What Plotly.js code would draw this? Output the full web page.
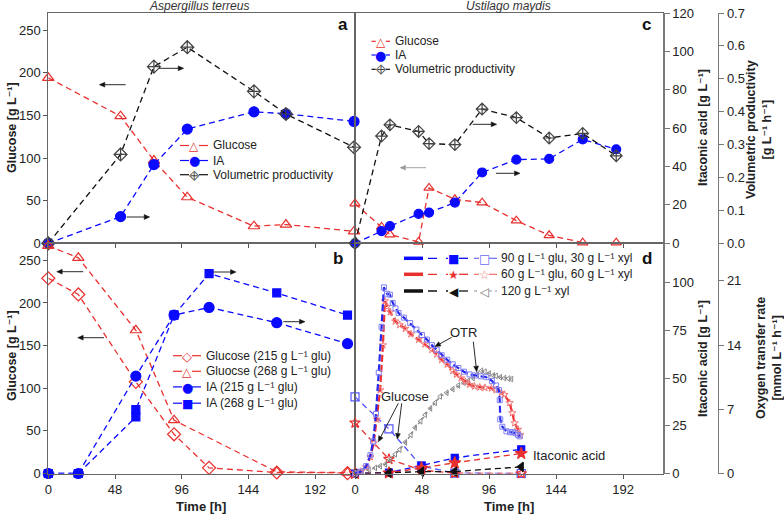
<!DOCTYPE html>
<html><head><meta charset="utf-8">
<script src="https://cdn.plot.ly/plotly-3.0.1.min.js"></script>
<style>body{margin:0;background:#fff;}</style>
</head><body>
<div id="chart" style="width:784px;height:515px;"></div>
<script>
// ---------------- DATA ----------------
// Panel a: Aspergillus terreus (batch)
const timeA    = [0, 52, 76, 100, 148, 171, 220];
const glucoseA = [194, 149, 97, 54, 20, 22, 14];          // g/L (left axis)
const iaA      = [0, 13.9, 41, 59.5, 68.5, 67.5, 63.5];   // g/L (right axis)
const vpA      = [0, 0.27, 0.537, 0.596, 0.462, 0.393, 0.292]; // g/L/h

// Panel b: Aspergillus terreus, 215 / 268 g/L glucose
const timeB        = [0, 21.6, 63, 90.5, 115.7, 164.4, 215.3];
const glucoseB215  = [229, 210, 107.5, 46, 6.6, 1.2, 0.4];
const timeB268Glu  = [0, 21.6, 63, 90.5, 164.4, 215.3];
const glucoseB268  = [267, 253, 168, 62.5, 1.9, 1];
const iaB215       = [0, 0, 51, 83, 87, 79, 68];
const timeB268IA   = [0, 21.6, 63, 63, 90.5, 115.7, 164.4, 215.3];
const iaB268       = [0, 0, 29.6, 33.5, 83, 104.7, 94.6, 83];

// Panel c: Ustilago maydis
const timeC    = [0, 19, 25, 45.5, 53, 71.5, 91, 115.5, 139, 163, 187];
const glucoseC = [46.6, 19.2, 10.2, 1.6, 65, 51.6, 47.7, 26.6, 9.4, 0.8, 0.8];
const iaC      = [0, 6.3, 8.9, 15.3, 16, 21.2, 36.9, 43.6, 44, 54.1, 49];
const vpC      = [0, 0.326, 0.36, 0.34, 0.303, 0.30, 0.408, 0.382, 0.32, 0.334, 0.266];

// Panel d: Ustilago maydis, mixed substrates
const timeD      = [0, 24.3, 47.6, 71.4, 119];
const glucoseD1  = [89.8, 52.3, 8.6, 0.5, 0];     // 90 glu / 30 xyl
const glucoseD2  = [59.4, 16.8, 3.9, 0.3, 0];     // 60 glu / 60 xyl
const iaD1       = [0, 0.5, 4.2, 8.2, 12.7];
const iaD2       = [0, 0.3, 2.9, 5.6, 10.5];
const iaD3       = [0, 0.3, 1, 1, 3.5];           // 120 xyl

const otrTime1 = [0, 4, 8, 11, 13, 15, 17, 19, 20.7, 22.9, 25, 27, 29, 31.2, 35, 39.5, 44, 47.9, 51.5, 55, 58.5, 62, 66, 70, 74, 78, 82, 86, 90, 94, 98, 101, 103, 103.6, 104, 105.5, 108.4, 111, 113, 115, 116.7, 117.9];
const otr1     = [0, 0.2, 0.8, 2.0, 3.5, 6.5, 11, 16, 20.3, 19.6, 19.5, 18.6, 18.0, 17.5, 17.0, 16.4, 15.7, 15.1, 14.6, 14.0, 13.5, 12.9, 12.4, 11.9, 11.5, 11.1, 10.8, 10.7, 10.6, 10.5, 10.1, 9.6, 9.1, 8.0, 5.9, 5.1, 4.6, 4.5, 4.5, 4.4, 4.2, 4.05];
const otrTime2 = [0, 4, 8, 11, 13.4, 15.7, 18, 20, 21.4, 23, 25.2, 28.8, 32, 36, 40, 45.5, 50, 55, 58.5, 62, 66, 70, 72.6, 76, 79, 82, 85.5, 89.3, 93, 97.6, 101, 104.8, 107, 110.7, 112.6, 114.3, 116.7, 118.3];
const otr2     = [0, 0.2, 0.7, 1.8, 3.3, 5.9, 9.1, 14, 18.8, 18.2, 17.6, 16.6, 16.2, 15.8, 15.2, 14.6, 14.1, 13.5, 13.0, 12.4, 11.9, 11.2, 10.8, 10.4, 10.0, 9.7, 9.5, 9.4, 9.35, 9.3, 9.1, 8.8, 8.6, 7.7, 6.6, 5.5, 4.8, 4.2];
const otrTime3 = [0, 5, 10, 14.5, 18, 21.7, 25, 28.8, 32, 36, 40, 43, 47, 50.2, 54, 57.4, 61, 65.7, 70, 74, 78, 81, 84.5, 87.5, 90.5, 93, 96, 99, 101, 104, 107, 110, 112];
const otr3     = [0, 0.3, 0.4, 0.6, 0.8, 1.0, 1.5, 2.1, 2.6, 3.4, 4.2, 5.0, 5.7, 6.4, 7.1, 7.7, 8.4, 8.8, 9.2, 9.6, 9.9, 10.1, 10.4, 10.8, 11.2, 11.1, 10.9, 10.7, 10.65, 10.5, 10.4, 10.35, 10.3];

const timeTicks = [0, 48, 96, 144, 192];
const glucoseTicks = [0, 50, 100, 150, 200, 250];
const iaTicksC = [0, 20, 40, 60, 80, 100, 120];
const iaTicksD = [0, 25, 50, 75, 100];
const vpTicks = [0, 0.1, 0.2, 0.3, 0.4, 0.5, 0.6, 0.7];
const otrTicks = [0, 7, 14, 21];

// ---------------- STYLE ----------------
const FONT = 'Arial, "Liberation Sans", "DejaVu Sans", sans-serif';
const W = 784, H = 515;
const px = v => v / W, py = v => 1 - v / H;
const XL = [px(48.3), px(355)], XR = [px(355), px(663.3)];
const YT = [py(243.3), py(13)], YB = [py(473.5), py(243.3)];
const RED = '#e8302e', BLUE = '#0a0aff', BLK = '#111111';
const DASH = '6px,4px';

function tr(x, y, xa, ya, color, symbol, size, opt) {
  opt = opt || {};
  return {
    x: x, y: y, xaxis: xa, yaxis: ya, type: 'scatter', mode: 'lines+markers',
    cliponaxis: false, showlegend: false, hoverinfo: 'skip',
    line: {color: opt.lineColor || color, width: opt.lw || 1.3, dash: opt.dash || DASH},
    marker: {symbol: symbol, size: size, color: opt.mcolor || color,
             line: {color: opt.mcolor || color, width: opt.mlw || 1.2}}
  };
}

const data = [
  // a
  tr(timeA, glucoseA, 'x', 'y', RED, 'triangle-up-open', 10),
  tr(timeA, iaA, 'x', 'y2', BLUE, 'circle', 10),
  tr(timeA, vpA, 'x', 'y3', BLK, 'diamond-cross-open', 10, {mcolor: '#444'}),
  // b
  tr(timeB, glucoseB215, 'x2', 'y4', RED, 'diamond-open', 10),
  tr(timeB268Glu, glucoseB268, 'x2', 'y4', RED, 'triangle-up-open', 10),
  tr(timeB, iaB215, 'x2', 'y5', BLUE, 'circle', 10),
  tr(timeB268IA, iaB268, 'x2', 'y5', BLUE, 'square', 8),
  // c
  tr(timeC, glucoseC, 'x3', 'y6', RED, 'triangle-up-open', 9),
  tr(timeC, iaC, 'x3', 'y7', BLUE, 'circle', 9),
  tr(timeC, vpC, 'x3', 'y8', BLK, 'diamond-cross-open', 9, {mcolor: '#444'}),
  // d : OTR
  tr(otrTime3, otr3, 'x4', 'y11', '#8a8a8a', 'triangle-left-open', 5, {dash: 'dot', lw: 1.5, mlw: 1}),
  tr(otrTime2, otr2, 'x4', 'y11', '#f27474', 'star-open', 5.5, {lineColor: '#ee3030', lw: 2.2, dash: '7px,3px', mlw: 1}),
  tr(otrTime1, otr1, 'x4', 'y11', '#8080f4', 'square-open', 5, {lineColor: '#2828ee', lw: 2.2, dash: '7px,3px', mlw: 1}),
  // d : glucose
  tr(timeD, glucoseD1, 'x4', 'y9', '#5555ff', 'square-open', 8),
  tr(timeD, glucoseD2, 'x4', 'y9', RED, 'star-open', 8),
  // d : itaconic acid
  tr(timeD, iaD1, 'x4', 'y10', BLUE, 'square', 7),
  tr(timeD, iaD2, 'x4', 'y10', RED, 'star', 9),
  tr(timeD, iaD3, 'x4', 'y10', BLK, 'triangle-left', 8)
];

const tickFont = {family: FONT, size: 13, color: '#222'};
function xAx(domain, anchor, labels) {
  return {domain: domain, anchor: anchor, range: [0, 220.7], tickvals: timeTicks,
    showticklabels: labels, ticks: 'outside', ticklen: 4, tickcolor: '#555',
    showline: true, linecolor: '#666', linewidth: 1, mirror: true,
    showgrid: false, zeroline: false, tickfont: tickFont, fixedrange: true};
}
function yLeft(domain, anchor, labels) {
  return {domain: domain, anchor: anchor, range: [0, 270], tickvals: glucoseTicks,
    showticklabels: labels, ticks: labels ? 'outside' : '', ticklen: 4, tickcolor: '#555',
    showline: true, linecolor: '#666', linewidth: 1, mirror: true,
    showgrid: false, zeroline: false, tickfont: tickFont, fixedrange: true};
}
function hidden(over, anchor, range) {
  return {overlaying: over, anchor: anchor, range: range, visible: false, fixedrange: true};
}
function yRight(over, pos, range, ticks, fmt) {
  return {overlaying: over, anchor: 'free', position: px(pos), side: 'right', range: range,
    tickvals: ticks, tickformat: fmt || '', ticks: 'outside', ticklen: 5, tickcolor: '#777',
    showline: true, linecolor: '#7a7a7a', linewidth: 1.3, showgrid: false, zeroline: false,
    tickfont: tickFont, fixedrange: true};
}

const shapes = [];
const annotations = [];
function txt(text, x, y, o) {
  o = o || {};
  annotations.push({text: text, xref: 'paper', yref: 'paper', x: px(x), y: py(y),
    xanchor: o.xa || 'center', yanchor: o.ya || 'middle', showarrow: false,
    textangle: o.angle || 0,
    font: {family: o.family || FONT, size: o.size || 12, color: o.color || '#222'}});
}
// arrow drawn as a line plus a filled head (layout decoration)
function arrow(hx, hy, tx, ty, color) {
  color = color || '#111';
  const dx = hx - tx, dy = hy - ty, len = Math.sqrt(dx * dx + dy * dy);
  const ux = dx / len, uy = dy / len, hl = 5.5, hw = 2.4;
  const bx = hx - ux * hl, by = hy - uy * hl;
  shapes.push({type: 'line', xref: 'paper', yref: 'paper', x0: px(tx), y0: py(ty),
    x1: px(bx), y1: py(by), line: {color: color, width: 0.9}});
  const p1 = [bx - uy * hw, by + ux * hw], p2 = [bx + uy * hw, by - ux * hw];
  shapes.push({type: 'path', xref: 'paper', yref: 'paper',
    path: 'M' + px(hx) + ',' + py(hy) + ' L' + px(p1[0]) + ',' + py(p1[1]) +
          ' L' + px(p2[0]) + ',' + py(p2[1]) + ' Z',
    fillcolor: color, line: {color: color, width: 0.5}});
}
function seg(x0, x1, y, color, width, dash) {
  shapes.push({type: 'line', xref: 'paper', yref: 'paper', x0: px(x0), x1: px(x1),
    y0: py(y), y1: py(y), line: {color: color, width: width || 1.3, dash: dash || 'dash'}});
}
function glyph(g, x, y, color, size, angle) {
  annotations.push({text: g, xref: 'paper', yref: 'paper', x: px(x), y: py(y),
    xanchor: 'center', yanchor: 'middle', showarrow: false, textangle: angle || 0,
    font: {family: '"DejaVu Sans"', size: size || 13, color: color}});
}
// simple legend row: "- o -" + label
function legRow(x0, x1, y, color, g, gcol, gsize, label, gangle) {
  const cx = (x0 + x1) / 2;
  seg(x0, cx - 5, y, color, 1.2, 'dash');
  seg(cx + 5, x1, y, color, 1.2, 'dash');
  glyph(g, cx, y + 0.5, gcol, gsize, gangle);
  txt(label, x1 + 3, y, {xa: 'left', size: 12});
}
const SUP = '⁻¹';

// Panel a legend
legRow(180, 208, 145.5, RED, '△', RED, 12, 'Glucose');
legRow(180, 208, 160.5, BLUE, '●', BLUE, 13, 'IA');
legRow(180, 208, 174.7, BLK, '⊠', '#444', 11, 'Volumetric productivity', 45);
// Panel c legend
legRow(371.5, 390, 41.3, RED, '△', RED, 12, 'Glucose');
legRow(371.5, 390, 55, BLUE, '●', BLUE, 13, 'IA');
legRow(371.5, 390, 69.3, BLK, '⊠', '#444', 11, 'Volumetric productivity', 45);
// Panel b legend
legRow(173, 201, 355.7, RED, '◇', RED, 13, 'Glucose (215 g L' + SUP + ' glu)');
legRow(173, 201, 371.3, RED, '△', RED, 12, 'Gluocse (268 g L' + SUP + ' glu)');
legRow(173, 201, 386.9, BLUE, '●', BLUE, 13, 'IA (215 g L' + SUP + ' glu)');
legRow(173, 201, 403.2, BLUE, '■', BLUE, 12, 'IA (268 g L' + SUP + ' glu)');
// Panel d legend
function legD(y, c1, fg, c2, og, c3, odash, label) {
  seg(404, 423, y, c1, 3.5, 'solid');
  seg(428, 448, y, c1, 1.3, 'dash');
  seg(459, 472, y, c1, 1.3, 'dash');
  glyph(fg, 453.5, y + 0.5, c1, 12);
  seg(474, 479, y, c3, 1.2, odash);
  seg(489, 497, y, c3, 1.2, odash);
  glyph(og, 484.3, y + 0.5, c2, 12);
  txt(label, 499, y, {xa: 'left', size: 12});
}
legD(258.3, BLUE, '■', '#6a6af0', '□', '#6a6af0', 'dash', '90 g L' + SUP + ' glu, 30 g L' + SUP + ' xyl');
legD(274.3, RED, '★', '#f07070', '☆', '#f07070', 'dash', '60 g L' + SUP + ' glu, 60 g L' + SUP + ' xyl');
legD(291, BLK, '◀', '#777', '◁', '#999', 'dot', '120 g L' + SUP + ' xyl');

// titles and letters
txt('<i>Aspergillus terreus</i>', 199, 6, {size: 12, color: '#333'});
txt('<i>Ustilago maydis</i>', 508, 6, {size: 12, color: '#333'});
txt('<b>a</b>', 342.5, 25, {size: 17, color: '#111'});
txt('<b>b</b>', 337.7, 258.3, {size: 17, color: '#111'});
txt('<b>c</b>', 646.7, 25, {size: 17, color: '#111'});
txt('<b>d</b>', 646.7, 258.3, {size: 17, color: '#111'});
// axis titles
txt('<b>Glucose [g L' + SUP + ']</b>', 12, 128, {angle: -90, size: 12.5});
txt('<b>Glucose [g L' + SUP + ']</b>', 12, 356, {angle: -90, size: 12.5});
txt('<b>Itaconic acid [g L' + SUP + ']</b>', 703, 128, {angle: -90, size: 12.5});
txt('<b>Itaconic acid [g L' + SUP + ']</b>', 703, 359, {angle: -90, size: 12.5});
txt('<b>Volumetric productivity<br>[g L' + SUP + ' h' + SUP + ']</b>', 759, 130, {angle: -90, size: 12.5});
txt('<b>Oxygen transfer rate<br>[mmol L' + SUP + ' h' + SUP + ']</b>', 769, 358, {angle: -90, size: 12.5});
txt('<b>Time [h]</b>', 201, 506, {size: 13});
txt('<b>Time [h]</b>', 509, 506, {size: 13});
// in-plot labels
txt('OTR', 463.3, 332.7, {size: 13});
txt('Glucose', 405, 396, {size: 13});
txt('Itaconic acid', 531, 455, {xa: 'left', size: 13});

// arrows a
arrow(99.3, 84.7, 125.7, 84.7);
arrow(183.7, 68.3, 159, 68.3);
arrow(149.7, 217, 126.7, 217);
// arrows c
arrow(400, 167.7, 426, 167.7, '#999');
arrow(496.7, 124.3, 472.7, 124.3);
arrow(520, 173.3, 496, 173.3);
// arrows b
arrow(56.7, 271.7, 83.3, 271.7);
arrow(77.7, 337.7, 104, 337.7);
arrow(236, 272, 213, 272);
arrow(305, 321.7, 283.3, 321.7);
// arrows d
arrow(435, 346.5, 451.7, 337.3);
arrow(476.7, 371.7, 473.3, 341.7);
arrow(378.3, 441.7, 398.3, 403.3);
arrow(397.3, 439, 401.7, 403.3);

const layout = {
  width: W, height: H, margin: {l: 0, r: 0, t: 0, b: 0},
  paper_bgcolor: '#fff', plot_bgcolor: 'rgba(0,0,0,0)',
  font: {family: FONT, size: 12, color: '#222'},
  showlegend: false,
  xaxis: xAx(XL, 'y', false),
  yaxis: yLeft(YT, 'x', true),
  yaxis2: hidden('y', 'x', [0, 120]),
  yaxis3: hidden('y', 'x', [0, 0.7]),
  xaxis2: xAx(XL, 'y4', true),
  yaxis4: yLeft(YB, 'x2', true),
  yaxis5: hidden('y4', 'x2', [0, 120.6]),
  xaxis3: xAx(XR, 'y6', false),
  yaxis6: yLeft(YT, 'x3', false),
  yaxis7: yRight('y6', 663.3, [0, 120], iaTicksC),
  yaxis8: yRight('y6', 718, [0, 0.7], vpTicks, '.1f'),
  xaxis4: xAx(XR, 'y9', true),
  yaxis9: yLeft(YB, 'x4', false),
  yaxis10: yRight('y9', 663.3, [0, 120.6], iaTicksD),
  yaxis11: yRight('y9', 718, [0, 25.1], otrTicks),
  shapes: shapes,
  annotations: annotations
};

Plotly.newPlot('chart', data, layout, {staticPlot: true, displayModeBar: false});
</script>
</body></html>
